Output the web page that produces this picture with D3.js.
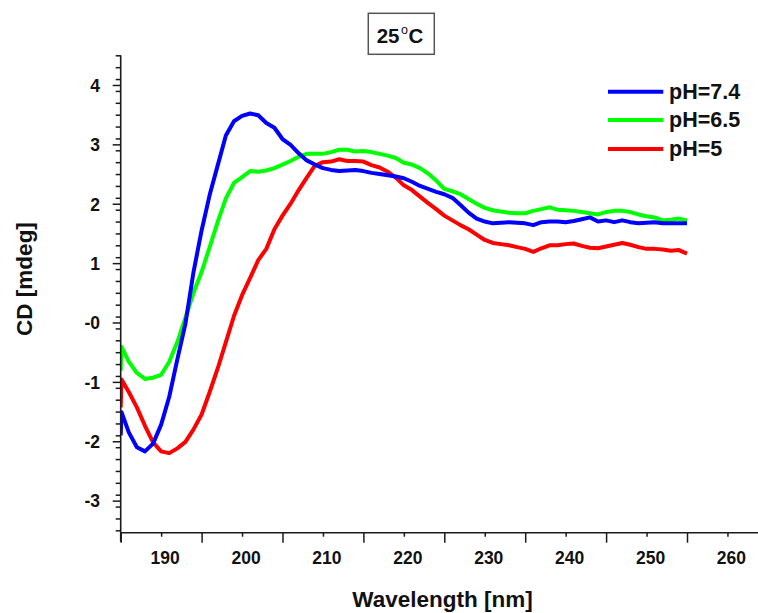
<!DOCTYPE html>
<html>
<head>
<meta charset="utf-8">
<script src="https://cdn.jsdelivr.net/npm/d3@7"></script>
<style>
  html, body { margin: 0; padding: 0; background: #fff; }
  svg { display: block; }
  text { font-family: "Liberation Sans", Arial, sans-serif; font-weight: bold; fill: #111; }
</style>
</head>
<body>
<svg id="chart" width="758" height="613"></svg>
<script>
// ---- data ----
const wavelengths = [185, 185.1, 186, 187, 188, 189, 190, 191, 192, 193, 194, 195, 196, 197, 198, 199,
  200, 201, 202, 203, 204, 205, 206, 207, 208, 209, 210, 211, 212, 213, 214, 215, 216, 217, 218, 219,
  220, 221, 222, 223, 224, 225, 226, 227, 228, 229, 230, 231, 232, 233, 234, 235, 236, 237, 238, 239,
  240, 241, 242, 243, 244, 245, 246, 247, 248, 249, 250, 251, 252, 253, 254, 255];

const cdPH74 = [-1.90, -1.51, -1.85, -2.10, -2.17, -2.04, -1.72, -1.25, -0.62, -0.02, 0.85, 1.55, 2.15, 2.65, 3.15, 3.39,
  3.48, 3.52, 3.49, 3.36, 3.28, 3.09, 2.99, 2.85, 2.73, 2.66, 2.60, 2.57, 2.55, 2.56, 2.57, 2.55, 2.52, 2.50, 2.48, 2.46,
  2.43, 2.37, 2.30, 2.25, 2.20, 2.16, 2.10, 1.98, 1.85, 1.75, 1.70, 1.67, 1.68, 1.69, 1.68, 1.67, 1.64, 1.69, 1.70, 1.70,
  1.69, 1.71, 1.74, 1.77, 1.70, 1.72, 1.69, 1.72, 1.69, 1.67, 1.68, 1.69, 1.67, 1.67, 1.67, 1.67];

const cdPH65 = [-0.81, -0.41, -0.66, -0.85, -0.95, -0.93, -0.88, -0.66, -0.33, 0.08, 0.50, 0.85, 1.27, 1.70, 2.09, 2.35,
  2.45, 2.55, 2.54, 2.56, 2.60, 2.66, 2.72, 2.79, 2.84, 2.84, 2.84, 2.87, 2.91, 2.91, 2.88, 2.89, 2.87, 2.84, 2.81, 2.77,
  2.69, 2.66, 2.60, 2.51, 2.39, 2.25, 2.21, 2.16, 2.08, 2.00, 1.93, 1.89, 1.87, 1.85, 1.84, 1.84, 1.88, 1.91, 1.94, 1.90,
  1.89, 1.88, 1.86, 1.84, 1.82, 1.86, 1.88, 1.88, 1.86, 1.82, 1.79, 1.77, 1.72, 1.73, 1.75, 1.72];

const cdPH5 = [-1.43, -0.96, -1.17, -1.43, -1.74, -2.02, -2.17, -2.20, -2.12, -2.01, -1.80, -1.55, -1.17, -0.77, -0.33, 0.11,
  0.46, 0.75, 1.05, 1.24, 1.57, 1.80, 2.00, 2.23, 2.44, 2.64, 2.70, 2.71, 2.75, 2.72, 2.72, 2.71, 2.65, 2.61, 2.54, 2.44,
  2.31, 2.23, 2.12, 2.01, 1.91, 1.80, 1.72, 1.64, 1.57, 1.48, 1.39, 1.34, 1.32, 1.30, 1.27, 1.24, 1.19, 1.25, 1.30, 1.30,
  1.32, 1.33, 1.29, 1.26, 1.25, 1.28, 1.31, 1.34, 1.31, 1.27, 1.24, 1.24, 1.23, 1.21, 1.22, 1.16];

const seriesNames = ["pH=7.4", "pH=6.5", "pH=5"];
const seriesColors = ["#0000ff", "#00ff00", "#ff0000"];
const seriesValues = [cdPH74, cdPH65, cdPH5];

const xMajorTicks = [190, 200, 210, 220, 230, 240, 250, 260];
const xMidTicks = [185, 195, 205, 215, 225, 235, 245, 255];
const yMajorTicks = [-3, -2, -1, 0, 1, 2, 3, 4];
const yTickLabels = ["-3", "-2", "-1", "-0", "1", "2", "3", "4"];
const titleText = "25";
const titleSup = "o";
const titleUnit = "C";
const xLabel = "Wavelength [nm]";
const yLabel = "CD [mdeg]";

// ---- layout ----
const svg = d3.select("#chart");
const L = 120.7, R = 759, T = 55.3, B = 532.7;

const x = d3.scaleLinear().domain([185, 263.9]).range([L, R]);
const y = d3.scaleLinear().domain([-3.54, 4.5]).range([B, T]);

svg.append("defs").append("clipPath").attr("id", "plotclip")
  .append("rect").attr("x", L).attr("y", T - 5).attr("width", R - L).attr("height", B - T + 5);

// curves: draw red, green, blue (blue on top)
const line = d3.line().x((d, i) => x(wavelengths[i])).y(d => y(d));
const g = svg.append("g").attr("clip-path", "url(#plotclip)");
[2, 1, 0].forEach(k => {
  g.append("path")
    .datum(seriesValues[k])
    .attr("d", line)
    .attr("fill", "none")
    .attr("stroke", seriesColors[k])
    .attr("stroke-width", 4)
    .attr("stroke-linejoin", "round");
});

// axes
const axisColor = "#1a1a1a";
// x axis: labelled ticks short, mid ticks long
const xAxis = d3.axisBottom(x).tickValues(xMajorTicks).tickSizeInner(4).tickSizeOuter(0).tickFormat(d3.format("d"));
const gx = svg.append("g").attr("transform", `translate(0,${B})`).call(xAxis);
gx.select(".domain").remove();
gx.selectAll(".tick line").attr("stroke", axisColor).attr("stroke-width", 1.5);
gx.selectAll(".tick text").attr("dy", null).attr("y", 31.5).attr("dx", 3.5)
  .style("font-size", "17.5px").style("font-family", "Liberation Sans, Arial, sans-serif").style("font-weight", "bold").attr("fill", "#111");
const xAxisMid = d3.axisBottom(x).tickValues(xMidTicks).tickSizeInner(10).tickSizeOuter(0).tickFormat("");
const gx2 = svg.append("g").attr("transform", `translate(0,${B})`).call(xAxisMid);
gx2.select(".domain").remove();
gx2.selectAll(".tick line").attr("stroke", axisColor).attr("stroke-width", 1.5);
svg.append("line").attr("x1", L).attr("x2", R).attr("y1", B).attr("y2", B)
  .attr("stroke", axisColor).attr("stroke-width", 1.6);

// y axis
const yMinor = d3.range(-35, 46, 2).map(v => v / 10).filter(v => Math.abs(v - Math.round(v)) > 1e-6);
const yAxisMinor = d3.axisLeft(y).tickValues(yMinor).tickSizeInner(5).tickSizeOuter(0).tickFormat("");
const gy2 = svg.append("g").attr("transform", `translate(${L},0)`).call(yAxisMinor);
gy2.select(".domain").remove();
gy2.selectAll(".tick line").attr("stroke", axisColor).attr("stroke-width", 1.5);
const yAxis = d3.axisLeft(y).tickValues(yMajorTicks).tickSizeInner(8).tickSizeOuter(0)
  .tickFormat((d, i) => yTickLabels[i]);
const gy = svg.append("g").attr("transform", `translate(${L},0)`).call(yAxis);
gy.select(".domain").remove();
gy.selectAll(".tick line").attr("stroke", axisColor).attr("stroke-width", 1.5);
gy.selectAll(".tick text").attr("x", -20.7).attr("dy", "0.36em")
  .style("font-size", "17.5px").style("font-family", "Liberation Sans, Arial, sans-serif").style("font-weight", "bold").attr("fill", "#111");
svg.append("line").attr("x1", L).attr("x2", L).attr("y1", T).attr("y2", B + 9)
  .attr("stroke", axisColor).attr("stroke-width", 1.6);

// axis labels
svg.append("text").attr("x", 442.5).attr("y", 607).attr("text-anchor", "middle")
  .style("font-size", "22.5px").text(xLabel);
svg.append("text").attr("transform", "translate(31.7,279) rotate(-90)").attr("text-anchor", "middle")
  .style("font-size", "22.5px").text(yLabel);

// title box
svg.append("rect").attr("x", 368.3).attr("y", 13.3).attr("width", 66).attr("height", 41)
  .attr("fill", "#fff").attr("stroke", "#555").attr("stroke-width", 1.5);
const tt = svg.append("text").attr("x", 400).attr("y", 43.3).attr("text-anchor", "middle").style("font-size", "20.5px");
tt.append("tspan").text(titleText);
tt.append("tspan").attr("dy", -9).attr("dx", 1.5).style("font-size", "12.5px").style("font-weight", "normal").text(titleSup);
tt.append("tspan").attr("dy", 9).attr("dx", 0.5).text(titleUnit);

// legend
const legY = [91.7, 120, 149];
seriesNames.forEach((name, i) => {
  svg.append("line").attr("x1", 608).attr("x2", 663.3).attr("y1", legY[i]).attr("y2", legY[i])
    .attr("stroke", seriesColors[i]).attr("stroke-width", 4);
  svg.append("text").attr("x", 669).attr("y", legY[i] + 6.8).style("font-size", "21.5px").text(name);
});
</script>
</body>
</html>
